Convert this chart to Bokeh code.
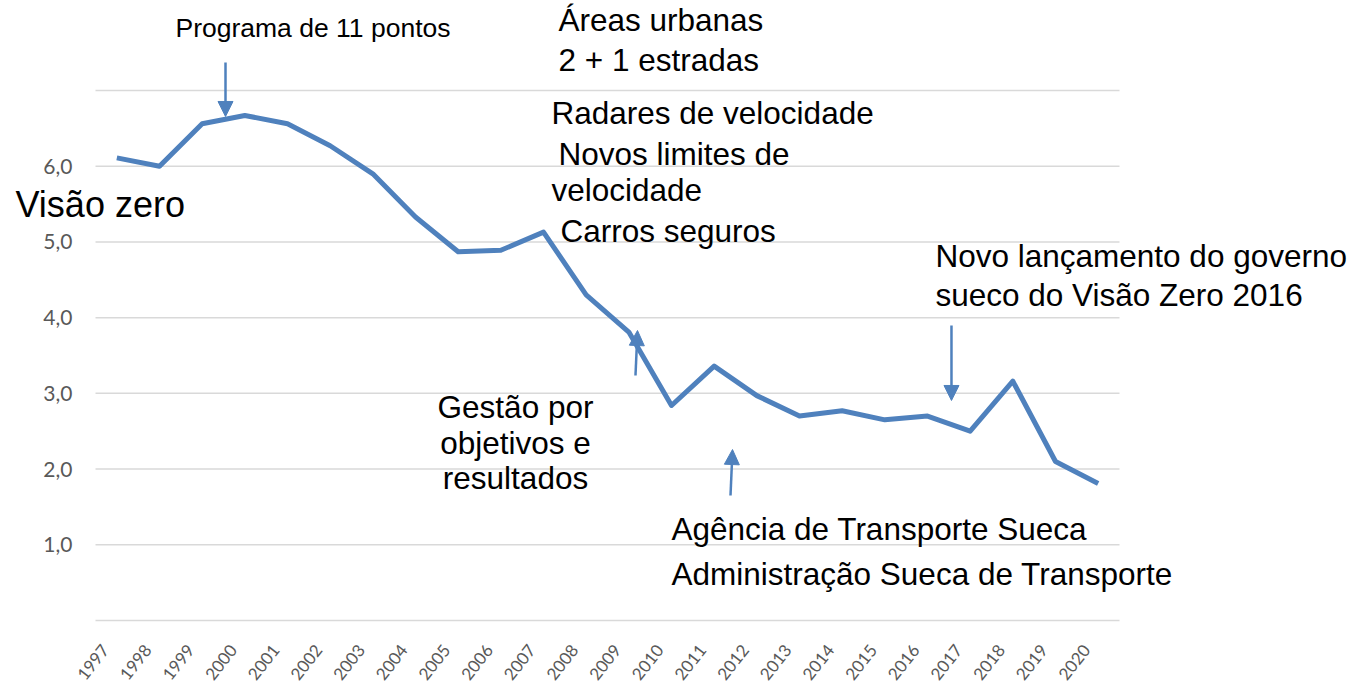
import math
from bokeh.plotting import figure
from bokeh.models import Label, Arrow, NormalHead, FixedTicker, Range1d, LinearAxis
from bokeh.embed import file_html
from bokeh.resources import INLINE

# ---- data ----
years = list(range(1997, 2021))
values = [6.11, 6.00, 6.56, 6.67, 6.56, 6.27, 5.90, 5.33, 4.87, 4.89, 5.13, 4.30,
          3.81, 2.84, 3.36, 2.97, 2.70, 2.77, 2.65, 2.70, 2.50, 3.16, 2.10, 1.81]
y_ticks = [0, 1, 2, 3, 4, 5, 6, 7]
y_tick_labels = ["", "1,0", "2,0", "3,0", "4,0", "5,0", "6,0", ""]

# annotation texts (x in years, y in chart units)
note_texts = ["Programa de 11 pontos", "Áreas urbanas", "2 + 1 estradas",
              "Radares de velocidade", "Novos limites de", "velocidade", "Carros seguros",
              "Visão zero", "Gestão por", "objetivos e", "resultados",
              "Agência de Transporte Sueca", "Administração Sueca de Transporte",
              "Novo lançamento do governo", "sueco do Visão Zero 2016"]
note_x = [1998.375, 2007.351, 2007.351, 2007.187, 2007.351, 2007.187, 2007.398,
          1994.625, 2006.344, 2006.344, 2006.344, 2010.0, 2010.0, 2016.187, 2016.187]
note_y = [7.830, 7.935, 7.405, 6.705, 6.160, 5.680, 5.140,
          5.500, 2.820, 2.350, 1.885, 1.210, 0.620, 4.810, 4.300]
note_align = ["left"] * 8 + ["center"] * 3 + ["left"] * 4
note_size = ["26.5px"] + ["31.5px"] * 6 + ["36px"] + ["31.5px"] * 7

# arrows (tail -> tip)
arrow_x0 = [1999.547, 2009.156, 2011.383, 2016.562]
arrow_y0 = [7.370, 3.236, 1.651, 3.896]
arrow_x1 = [1999.547, 2009.203, 2011.430, 2016.562]
arrow_y1 = [6.657, 3.830, 2.258, 2.906]

BLUE = "#4F81BD"

# ---- layout: the frame covers the whole canvas; the chart area is a sub-box ----
W, H = 1360, 686
PL, PR, PT, PB = 95, 1119, 90, 620          # chart area in pixels
X0, X1, Y0, Y1 = 1996.5, 2020.5, 0.0, 7.0   # chart area in data units
sx = (PR - PL) / (X1 - X0)
sy = (PB - PT) / (Y1 - Y0)
x_start, x_end = X0 - PL / sx, X1 + (W - PR) / sx
y_start, y_end = Y0 - (H - PB) / sy, Y1 + PT / sy

p = figure(width=W, height=H, output_backend="svg", toolbar_location=None,
           x_range=Range1d(x_start, x_end), y_range=Range1d(y_start, y_end),
           min_border=0, x_axis_location=None, y_axis_location=None)
p.outline_line_color = None
p.background_fill_color = "white"
p.border_fill_color = "white"
p.xgrid.grid_line_color = None
p.ygrid.grid_line_color = None

# horizontal gridlines across the chart area
p.segment(x0=[X0] * len(y_ticks), x1=[X1] * len(y_ticks), y0=y_ticks, y1=y_ticks,
          line_color="#d9d9d9", line_width=1.5)

p.line(years, values, line_color=BLUE, line_width=5, line_join="round")

# y axis pinned at the left edge of the chart area
yax = LinearAxis(fixed_location=X0, ticker=FixedTicker(ticks=y_ticks),
                 major_label_overrides={t: l for t, l in zip(y_ticks, y_tick_labels)})
yax.axis_line_color = None
yax.major_tick_line_color = None
yax.minor_tick_line_color = None
yax.major_label_standoff = 17
yax.major_label_text_font = "Lato"
yax.major_label_text_font_size = "21px"
yax.major_label_text_color = "#595959"
p.add_layout(yax, "left")

# x axis pinned at y = 0; labels shifted slightly left like the original
shift = 12 / sx
p.extra_x_ranges = {"lab": Range1d(x_start + shift, x_end + shift)}
xax = LinearAxis(fixed_location=Y0, x_range_name="lab", ticker=FixedTicker(ticks=years))
xax.axis_line_color = None
xax.major_tick_line_color = None
xax.minor_tick_line_color = None
xax.major_label_orientation = math.radians(52)
xax.major_label_standoff = 20
xax.major_label_text_font = "Lato"
xax.major_label_text_font_size = "17px"
xax.major_label_text_color = "#595959"
p.add_layout(xax, "below")

for t, x, y, a, s in zip(note_texts, note_x, note_y, note_align, note_size):
    p.add_layout(Label(x=x, y=y, text=t, text_align=a, text_baseline="alphabetic",
                       text_font="Liberation Sans", text_font_size=s, text_color="black"))

for x0, y0, x1, y1 in zip(arrow_x0, arrow_y0, arrow_x1, arrow_y1):
    p.add_layout(Arrow(x_start=x0, y_start=y0, x_end=x1, y_end=y1,
                       line_color=BLUE, line_width=2.5,
                       end=NormalHead(size=15, fill_color=BLUE, line_color=BLUE, line_width=1)))

open("out.html", "w").write(file_html(p, INLINE))
